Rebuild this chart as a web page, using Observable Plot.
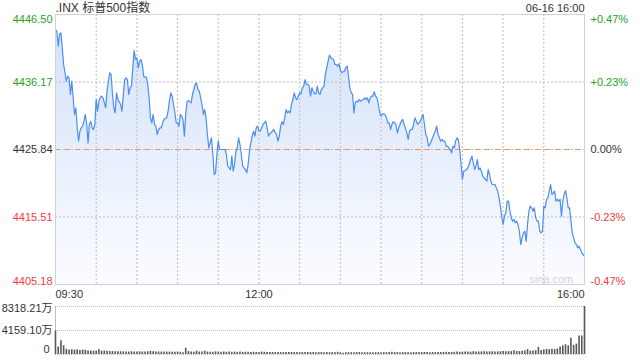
<!DOCTYPE html>
<html><head><meta charset="utf-8">
<script src="https://cdn.jsdelivr.net/npm/d3@7"></script>
<script src="https://cdn.jsdelivr.net/npm/@observablehq/plot@0.6"></script>
<style>
body{margin:0;background:#fff;width:640px;height:360px;overflow:hidden;position:relative;}
#main,#vol{position:absolute;left:0;}
#main{top:0;}
#vol{top:300px;}
</style></head><body><div id="main"></div><div id="vol"></div>
<script>
const title = ".INX 标普500指数";
const stamp = "06-16 16:00";
const prevClose = 4425.84;
const yTicks = [4405.18, 4415.51, 4425.84, 4436.17, 4446.50];
const yTickLabels = ["4405.18", "4415.51", "4425.84", "4436.17", "4446.50"];
const pctLabels = ["-0.47%", "-0.23%", "0.00%", "+0.23%", "+0.47%"];
const timeLabels = ["09:30", "12:00", "16:00"];
const timeLabelMinutes = [0, 150, 390];
const gridMinutes = [30, 60, 90, 120, 150, 180, 210, 240, 270, 300, 330, 360];
const volTicks = [0, 4159.10, 8318.21];
const volLabels = ["0", "4159.10万", "8318.21万"];
const watermark = "sina.com";

// one price per minute, 09:30 .. 16:00
const prices = [
4444.20,4443.95,4441.65,4443.44,4443.69,4441.40,4438.85,4437.57,4436.30,4437.06,
4436.81,4434.26,4436.30,4433.75,4431.20,4432.22,4429.16,4427.11,4428.65,4429.16,
4429.41,4430.18,4431.20,4429.67,4426.86,4429.67,4430.18,4429.16,4428.90,4429.67,
4433.49,4431.71,4433.24,4433.75,4434.00,4433.75,4432.98,4432.22,4434.77,4436.30,
4437.57,4437.32,4434.26,4432.22,4431.45,4434.51,4433.49,4433.13,4432.73,4431.71,
4434.26,4436.55,4436.81,4436.55,4434.26,4435.28,4435.53,4438.34,4440.99,4439.61,
4439.87,4438.34,4439.36,4439.61,4438.85,4437.06,4436.91,4436.91,4435.79,4433.75,
4430.69,4429.92,4431.20,4429.67,4429.41,4428.14,4428.90,4429.16,4429.16,4429.92,
4430.43,4430.58,4430.69,4431.71,4433.24,4434.51,4434.00,4432.73,4431.45,4429.92,
4429.92,4429.41,4431.20,4430.94,4430.43,4427.88,4431.20,4433.13,4433.34,4433.13,
4432.98,4434.26,4435.02,4435.79,4436.04,4435.02,4434.77,4433.75,4432.73,4431.20,
4431.96,4430.69,4428.14,4426.10,4426.86,4427.63,4425.07,4422.01,4422.27,4425.07,
4427.11,4425.84,4425.84,4425.84,4425.84,4425.84,4425.07,4423.29,4423.03,4422.78,
4424.82,4422.52,4423.54,4425.58,4426.10,4427.63,4426.60,4425.07,4423.29,4423.03,
4422.78,4422.27,4423.54,4425.58,4426.86,4427.88,4428.65,4427.88,4429.16,4429.41,
4428.65,4428.65,4429.16,4429.67,4429.92,4430.18,4429.16,4427.88,4428.24,4428.39,
4428.65,4428.90,4428.39,4428.14,4427.11,4427.88,4429.41,4430.07,4429.67,4430.69,
4431.96,4431.45,4431.71,4431.45,4432.73,4433.49,4434.51,4433.75,4433.49,4434.00,
4434.51,4434.36,4435.28,4435.53,4436.55,4435.79,4435.79,4435.53,4434.00,4435.28,
4434.77,4434.36,4434.36,4435.53,4434.51,4434.26,4435.02,4435.28,4435.53,4437.32,
4438.34,4439.36,4440.28,4439.87,4439.72,4439.61,4438.85,4438.85,4438.59,4438.95,
4438.08,4437.57,4437.73,4437.83,4438.34,4438.59,4437.06,4435.28,4434.51,4434.26,
4431.45,4432.98,4433.24,4433.13,4433.49,4433.24,4433.34,4433.49,4433.75,4433.49,
4433.75,4432.98,4433.75,4434.00,4434.00,4434.67,4434.00,4433.75,4432.73,4431.45,
4430.94,4431.30,4431.30,4431.20,4430.69,4429.92,4429.92,4428.90,4429.67,4430.07,
4429.92,4429.67,4428.39,4429.16,4429.67,4430.18,4430.43,4429.67,4429.16,4428.39,
4427.37,4428.65,4428.90,4428.90,4429.67,4430.69,4430.18,4429.67,4429.92,4430.18,
4430.69,4431.20,4429.67,4428.14,4427.63,4426.35,4426.60,4427.11,4427.63,4428.14,
4428.65,4429.41,4428.14,4427.63,4427.11,4427.37,4427.11,4427.11,4426.35,4426.35,
4426.10,4425.84,4425.33,4426.35,4426.10,
4427.12,4427.63,4427.37,4425.84,4423.54,4421.25,4422.52,4422.63,4422.78,4423.03,
4423.54,4424.31,4424.82,4423.80,4422.78,4423.29,4424.31,4422.78,4423.03,4422.52,
4421.76,4421.50,4421.25,4420.99,4422.78,4422.01,4420.99,4420.48,4420.48,4420.48,
4419.97,4419.46,4418.44,4417.17,4415.64,4414.36,4415.64,4416.15,4417.93,4417.93,
4416.40,4415.38,4414.87,4415.13,4414.62,4414.87,4414.36,4413.34,4411.30,4412.32,
4413.09,4413.34,4411.81,4414.36,4416.40,4417.17,4416.91,4416.40,4416.91,4415.38,
4414.87,4414.87,4413.34,4413.09,4413.34,4417.17,4416.91,4418.19,4418.44,4419.46,
4420.48,4418.95,4419.21,4419.46,4417.93,4418.19,4417.93,4418.19,4415.64,4417.93,
4418.95,4419.56,4418.44,4416.91,4416.91,4414.87,4413.09,4412.32,4411.55,4411.30,
4410.79,4411.04,4410.53,4410.02,4409.77,4409.51
];

// volume (万) per 2 minutes, 09:30 .. 16:00
const volumes = [
4100,1300,2400,1500,900,780,820,760,800,700,
760,720,620,600,560,600,850,560,600,580,
520,500,480,460,470,450,440,430,460,450,
440,460,430,450,470,520,480,440,430,420,
430,410,420,400,410,420,380,300,1100,500,
420,380,560,420,450,560,420,400,380,450,
420,400,430,380,420,410,400,380,420,360,
380,400,360,380,350,360,420,380,360,350,
360,340,350,330,360,350,360,340,330,340,
320,330,340,350,330,340,320,330,340,320,
330,310,330,320,380,300,200,310,330,320,
300,340,330,310,320,300,310,320,300,330,
310,320,300,330,370,320,330,310,320,330,
320,310,330,320,330,340,360,330,320,340,
330,350,340,360,400,350,360,380,420,380,
400,450,420,400,480,420,430,440,460,430,
450,470,440,460,480,520,460,480,500,660,
520,500,560,600,850,560,600,650,1200,700,
800,900,850,900,850,950,1300,1500,1700,1500,
2800,1600,1800,3200,3200,8318.21
];

const FONT = '"Liberation Sans", Arial, "Noto Sans CJK SC", sans-serif';
const GREEN = "#1fa31f", RED = "#f23b3b", DARK = "#333";
const colorOf = v => v > prevClose + 1e-6 ? GREEN : (v < prevClose - 1e-6 ? RED : DARK);

const data = prices.map((p, i) => ({m: i, p}));
const ticks = yTicks.map((v, i) => ({v, label: yTickLabels[i], pct: pctLabels[i], c: colorOf(v)}));
const tTop = ticks.filter(d => d.v === yTicks[4]);
const tBot = ticks.filter(d => d.v === yTicks[0]);
const tMid = ticks.filter(d => d.v !== yTicks[4] && d.v !== yTicks[0]);
const yMin = yTicks[0], yMax = yTicks[4];
const GRID = {stroke: "#bcbcbc", strokeWidth: 1, strokeDasharray: "2,2"};

function sideLabels(arr, anchor, dy) {
  return [
    Plot.text(arr, {x: 0, y: "v", text: "label", fill: "c", textAnchor: "end", dx: -3, dy, lineAnchor: anchor, fontSize: 11}),
    Plot.text(arr, {x: 390, y: "v", text: "pct", fill: "c", textAnchor: "start", dx: 6, dy, lineAnchor: anchor, fontSize: 11})
  ];
}

const main = Plot.plot({
  width: 640, height: 300,
  marginLeft: 55, marginRight: 56, marginTop: 14, marginBottom: 16,
  x: {domain: [0, 390], axis: null},
  y: {domain: [yMin, yMax], axis: null},
  color: {type: "identity"},
  style: {fontFamily: FONT, fontSize: "11px", color: "#333", background: "white"},
  marks: [
    Plot.areaY(data, {x: "m", y1: yMin, y2: "p", fill: "url(#areaGrad)"}),
    Plot.ruleY([yTicks[1], yTicks[3]], {y: d => d, ...GRID}),
    Plot.ruleX(gridMinutes, {x: d => d, ...GRID}),
    Plot.ruleY([prevClose], {y: d => d, ...GRID}),
    Plot.ruleY([prevClose], {y: d => d, stroke: "#ef935f", strokeDasharray: "5,5"}),
    Plot.lineY(data, {x: "m", y: "p", stroke: "#4b8ef2", strokeWidth: 1.2}),
    Plot.frame({stroke: "#d2d2d2"}),
    ...sideLabels(tTop, "top", 1),
    ...sideLabels(tMid, "middle", 0),
    ...sideLabels(tBot, "bottom", 0),
    Plot.text([title], {frameAnchor: "top-left", dy: -6, textAnchor: "start", lineAnchor: "middle", fontSize: 12}),
    Plot.text([stamp], {frameAnchor: "top-right", dy: -6, textAnchor: "end", lineAnchor: "middle", fontSize: 11}),
    Plot.text([watermark], {frameAnchor: "bottom-right", dx: -11, dy: -5, textAnchor: "end", lineAnchor: "middle", fontSize: 11, fill: "#d4d4d4"}),
    Plot.text(timeLabelMinutes.slice(0, 1), {x: d => d, y: yMin, text: [timeLabels[0]], textAnchor: "start", dy: 10, lineAnchor: "middle", fontSize: 11}),
    Plot.text(timeLabelMinutes.slice(1, 2), {x: d => d, y: yMin, text: [timeLabels[1]], textAnchor: "middle", dy: 10, lineAnchor: "middle", fontSize: 11}),
    Plot.text(timeLabelMinutes.slice(2, 3), {x: d => d, y: yMin, text: [timeLabels[2]], textAnchor: "end", dy: 10, lineAnchor: "middle", fontSize: 11})
  ]
});

const defs = d3.select(main).insert("defs", ":first-child");
const lg = defs.append("linearGradient").attr("id", "areaGrad")
  .attr("x1", 0).attr("y1", 0).attr("x2", 0).attr("y2", 1);
lg.append("stop").attr("offset", "0%").attr("stop-color", "#d4e2fa");
lg.append("stop").attr("offset", "100%").attr("stop-color", "#fbfcff");
document.getElementById("main").append(main);

const vdata = volumes.map((v, i) => ({m: i * 2, v}));
const vticks = volTicks.map((v, i) => ({v, label: volLabels[i]}));
const vol = Plot.plot({
  width: 640, height: 60,
  marginLeft: 55, marginRight: 56, marginTop: 6, marginBottom: 6,
  x: {domain: [0, 390], axis: null},
  y: {domain: [0, volTicks[2]], axis: null},
  style: {fontFamily: FONT, fontSize: "11px", color: "#333", background: "white"},
  marks: [
    Plot.ruleY(volTicks, {y: d => d, stroke: "#bbbbbb", strokeDasharray: "1,1"}),
    Plot.ruleX([0], {x: d => d, stroke: "#bdbdbd"}),
    Plot.ruleX(vdata, {x: "m", y1: 0, y2: "v", stroke: "#585858", strokeWidth: 1.6}),
    Plot.text(vticks.slice(2), {x: 0, y: "v", text: "label", textAnchor: "end", dx: -3, dy: -2, lineAnchor: "top", fontSize: 11}),
    Plot.text(vticks.slice(1, 2), {x: 0, y: "v", text: "label", textAnchor: "end", dx: -3, lineAnchor: "middle", fontSize: 11}),
    Plot.text(vticks.slice(0, 1), {x: 0, y: "v", text: "label", textAnchor: "end", dx: -6, dy: -2, lineAnchor: "bottom", fontSize: 11})
  ]
});
document.getElementById("vol").append(vol);
</script>
</body></html>
